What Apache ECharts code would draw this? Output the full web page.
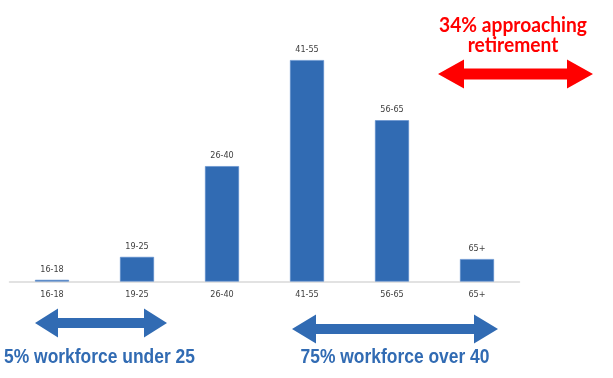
<!DOCTYPE html>
<html>
<head>
<meta charset="utf-8">
<script src="https://cdn.jsdelivr.net/npm/echarts@6/dist/echarts.min.js"></script>
<style>
  html, body { margin: 0; padding: 0; background: #fff; }
  #main { width: 613px; height: 378px; }
</style>
</head>
<body>
<div id="main"></div>
<script>
var ageGroups = ['16-18', '19-25', '26-40', '41-55', '56-65', '65+'];
// share of workforce (%) per age group
var workforceShare = [0.3, 4.5, 21.1, 40.5, 29.5, 4.1];

var blue = '#316bb3';
var red = '#ff0000';

// double-headed arrow as polygon points
function doubleArrow(x1, x2, cy, headLen, headHalf, shaftHalf) {
  return [
    [x1, cy],
    [x1 + headLen, cy - headHalf],
    [x1 + headLen, cy - shaftHalf],
    [x2 - headLen, cy - shaftHalf],
    [x2 - headLen, cy - headHalf],
    [x2, cy],
    [x2 - headLen, cy + headHalf],
    [x2 - headLen, cy + shaftHalf],
    [x1 + headLen, cy + shaftHalf],
    [x1 + headLen, cy + headHalf]
  ];
}

function note(text, x, y, color, font, sx) {
  return {
    type: 'text',
    x: x, y: y,
    scaleX: sx,
    style: {
      text: text,
      fill: color,
      font: font,
      textAlign: 'center',
      textVerticalAlign: 'middle'
    }
  };
}

var chart = echarts.init(document.getElementById('main'), null, { renderer: 'canvas' });

var blueFont = 'bold 21px "Liberation Sans", Arial, sans-serif';
var redFont = 'bold 20px Lato, "Open Sans", sans-serif';

var option = {
  animation: false,
  backgroundColor: '#ffffff',
  grid: {
    left: 9.5,
    width: 510,
    top: 35.5,
    bottom: 96.5,
    containLabel: false
  },
  xAxis: {
    type: 'category',
    data: ageGroups,
    axisLine: { lineStyle: { color: '#d9d9d9', width: 1.5 } },
    axisTick: { show: false },
    axisLabel: {
      color: '#404040',
      fontSize: 9,
      fontFamily: 'DejaVu Sans Condensed',
      margin: 9
    }
  },
  yAxis: {
    type: 'value',
    min: 0,
    max: 45,
    show: false,
    splitLine: { show: false }
  },
  series: [
    {
      type: 'bar',
      data: workforceShare,
      barWidth: 34,
      itemStyle: { color: blue, borderColor: '#5a8ccc', borderWidth: 0.6 },
      label: {
        show: true,
        position: 'top',
        distance: 6,
        formatter: function (p) { return p.name; },
        color: '#404040',
        fontSize: 9,
        fontFamily: 'DejaVu Sans Condensed'
      }
    }
  ],
  graphic: [
    {
      type: 'polygon',
      shape: { points: doubleArrow(35, 167, 323, 23, 14.5, 5) },
      style: { fill: blue }
    },
    {
      type: 'polygon',
      shape: { points: doubleArrow(292, 498, 329, 24, 14.5, 5) },
      style: { fill: blue }
    },
    {
      type: 'polygon',
      shape: { points: doubleArrow(438, 593, 74, 26, 14.5, 5.5) },
      style: { fill: red }
    },
    note('5% workforce under 25', 99.5, 357, blue, blueFont, 0.83),
    note('75% workforce over 40', 395, 357, blue, blueFont, 0.83),
    note('34% approaching', 513, 26, red, redFont, 0.96),
    note('retirement', 513, 46, red, redFont, 0.96)
  ]
};

chart.setOption(option);
</script>
</body>
</html>
